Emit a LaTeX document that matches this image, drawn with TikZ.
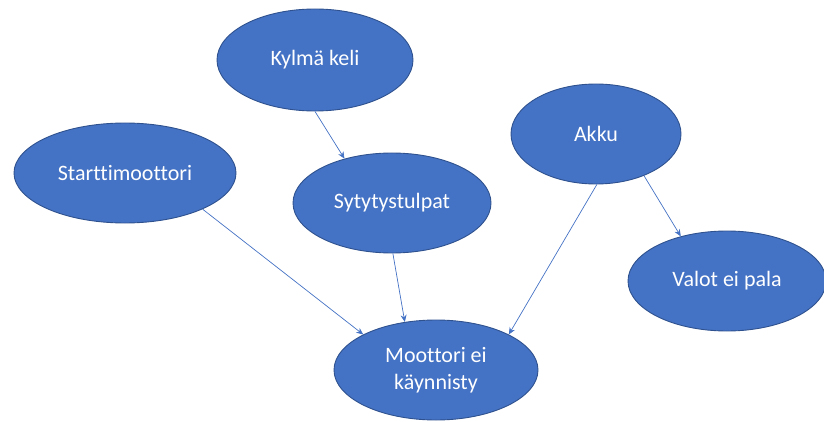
\documentclass[tikz,border=0pt]{standalone}
\usepackage{fontspec}
\setmainfont{Carlito}[Ligatures={NoCommon}]
\usetikzlibrary{shapes.geometric,arrows.meta}
\definecolor{nodefill}{HTML}{4472C4}
\definecolor{nodeline}{HTML}{2F528F}
\definecolor{arrowcol}{HTML}{4472C4}
\begin{document}
\begin{tikzpicture}[x=1pt,y=-1pt,
  bubble/.style={ellipse, draw=nodeline, line width=0.9pt, fill=nodefill, text=white,
    inner sep=0pt, align=center, font=\fontsize{22}{27}\selectfont},
  link/.style={draw=arrowcol, line width=0.7pt, -{Stealth[length=7pt,width=6pt]}}]
\useasboundingbox (0,0) rectangle (824,422);
\node[bubble, minimum width=196pt, minimum height=102pt] (kylma) at (315,60) {Kylmä keli};
\node[bubble, minimum width=222pt, minimum height=100pt] (start) at (125,173) {Starttimoottori};
\node[bubble, minimum width=170pt, minimum height=100pt] (akku) at (596,134) {Akku};
\node[bubble, minimum width=198pt, minimum height=100pt] (syty) at (392,203) {Sytytystulpat};
\node[bubble, minimum width=198pt, minimum height=100pt] (valot) at (727,281) {Valot ei pala};
\node[bubble, minimum width=204pt, minimum height=100pt] (moot) at (436,370) {Moottori ei\\käynnisty};
\draw[link] (kylma.-90) -- (syty.137);
\draw[link] (syty.-89) -- (moot.123);
\draw[link] (start.-25) -- (moot.154);
\draw[link] (akku.-89) -- (moot.26);
\draw[link] (akku.-41) -- (valot.136);
\end{tikzpicture}
\end{document}
